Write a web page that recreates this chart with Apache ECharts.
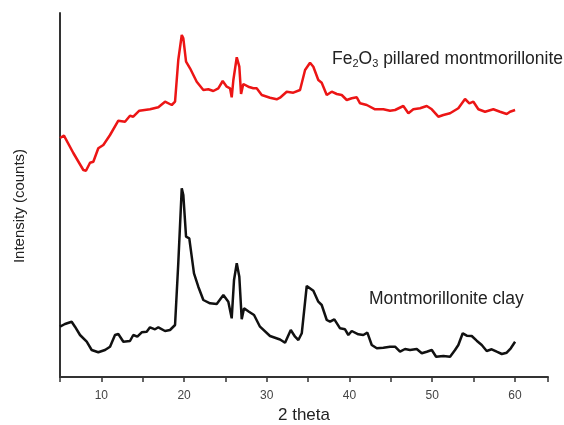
<!DOCTYPE html>
<html>
<head>
<meta charset="utf-8">
<script src="https://cdn.jsdelivr.net/npm/echarts@6/dist/echarts.min.js"></script>
<style>
html,body{margin:0;padding:0;background:#fff;}
#chart{width:564px;height:425px;}
</style>
</head>
<body>
<div id="chart"></div>
<script>
var xTickLabels = [10, 20, 30, 40, 50, 60];

var fe2o3X = [5.0,5.48,6.61,7.82,8.14,8.63,9.03,9.63,10.24,11.05,12.05,12.86,13.46,13.86,14.59,15.88,16.89,17.70,18.51,18.91,19.30,19.72,19.91,20.24,20.72,21.53,22.33,22.93,23.54,24.14,24.67,25.16,25.56,25.76,25.96,26.37,26.68,26.89,27.16,27.77,28.37,28.78,29.39,30.39,31.20,31.60,32.41,33.21,34.02,34.63,35.23,35.63,36.23,36.64,37.25,37.85,38.46,39.06,39.67,40.27,40.88,41.28,42.09,43.09,44.09,44.90,45.51,46.51,47.12,47.72,48.53,49.34,49.95,50.74,51.35,52.16,53.16,53.97,54.49,54.98,55.58,56.39,57.39,58.20,59.01,59.41,60.02];
var fe2o3Y = [239,241.3,224,207,206.3,214.3,215.3,228.7,232,242,256.3,255.3,261.3,260.3,266.3,267.7,269.7,275.3,272,275.3,317,342,338.7,315.3,308.7,295.3,287,287.7,286,288.7,296,290.3,288.7,279.7,297,319.7,310.3,283,293,290.3,288.7,288.7,282,279.3,277.7,279.3,285.3,284.3,287,307,314.3,310.3,297,294.3,282,285.3,283,282,277,278.7,279.7,273.7,272,267.7,267.7,266.3,267,271,263.7,267.7,268.7,271,267.7,260.3,262,263.7,268.7,278,273.7,275.3,267.7,265.3,267.7,265.3,263,265.3,267];

var clayX = [5.00,5.60,6.41,6.81,7.42,8.23,8.83,9.63,10.44,11.05,11.65,12.05,12.66,13.46,13.86,14.35,14.88,15.48,15.88,16.49,16.89,17.70,18.30,18.91,19.30,19.72,19.91,20.24,20.63,21.20,21.72,22.33,23.14,23.95,24.75,25.35,25.76,26.04,26.37,26.68,26.97,27.25,27.85,28.46,29.18,30.39,31.60,32.21,32.90,33.42,33.82,34.23,34.83,35.02,35.63,36.23,36.64,37.25,37.65,38.17,38.86,39.46,39.86,40.27,41.07,41.67,42.16,42.69,43.30,44.09,44.90,45.51,46.11,46.72,47.32,48.13,48.74,49.34,49.95,50.47,51.35,52.16,52.76,53.16,53.69,54.18,54.78,55.38,55.99,56.59,57.19,57.80,58.41,59.01,59.50,60.02];
var clayY = [50.3,53,55.3,50.3,42,35.3,27,24.7,27,30.3,42,43,35.3,36,42,40.3,44.7,45.3,49.7,47.7,49.7,46,47,52,113.7,188.7,182,140.3,138.7,103.7,90.3,77,73.7,73,82,75.3,58.7,97,113.7,100.3,57.7,68.7,65.3,62,50.3,41,37.5,34.3,47,40.3,37,43.7,91,92,86.3,75.3,72,57,55.3,57.7,48.7,47.7,42,46,42.7,42,44.3,32,28.7,29.3,30.3,30.3,25.3,28,27,28,23.7,25.3,27,20.3,21,20.3,27,32,43.7,41.3,41,36.3,32,26,27.7,25.3,23,24.3,28.7,35.3];

function zip(xs, ys) { return xs.map(function (x, i) { return [x, ys[i]]; }); }

var chart = echarts.init(document.getElementById('chart'));
var font = 'Liberation Sans, Arial, sans-serif';
chart.setOption({
  animation: false,
  backgroundColor: '#fff',
  grid: { left: 60, right: 16, top: 13, bottom: 48, containLabel: false, outerBoundsMode: 'none' },
  xAxis: {
    type: 'value', min: 5, max: 64, interval: 5,
    name: '2 theta', nameLocation: 'middle', nameGap: 27,
    nameTextStyle: { fontFamily: font, fontSize: 17, color: '#222' },
    axisLine: { lineStyle: { color: '#333', width: 2 } },
    axisTick: { show: true, length: 5, lineStyle: { color: '#333', width: 1.5 } },
    axisLabel: {
      fontFamily: font, fontSize: 12, color: '#444', margin: 13,
      formatter: function (v) { return xTickLabels.indexOf(v) >= 0 ? String(v) : ''; }
    },
    splitLine: { show: false }
  },
  yAxis: {
    type: 'value', min: 0, max: 364,
    axisLine: { show: true, lineStyle: { color: '#333', width: 2 } },
    axisTick: { show: false }, axisLabel: { show: false }, splitLine: { show: false }
  },
  series: [
    { type: 'line', data: zip(fe2o3X, fe2o3Y), showSymbol: false, lineStyle: { color: '#ec1515', width: 2.5 }, z: 3 },
    { type: 'line', data: zip(clayX, clayY), showSymbol: false, lineStyle: { color: '#111111', width: 2.5 }, z: 3 }
  ],
  graphic: [
    { type: 'text', x: 20, y: 206, rotation: Math.PI / 2, style: {
      text: 'Intensity (counts)', font: '15px ' + font, fill: '#222',
      textAlign: 'center', textVerticalAlign: 'middle'
    } },
    { type: 'text', left: 332, top: 50, style: {
      text: 'Fe{sub|2}O{sub|3} pillared montmorillonite',
      font: '17.5px ' + font, fill: '#222',
      rich: { sub: { fontSize: 11, fontFamily: font, fill: '#222', padding: [10, 0, 0, 0] } }
    } },
    { type: 'text', left: 369, top: 290, style: {
      text: 'Montmorillonite clay', font: '17.5px ' + font, fill: '#222'
    } }
  ]
});
</script>
</body>
</html>
